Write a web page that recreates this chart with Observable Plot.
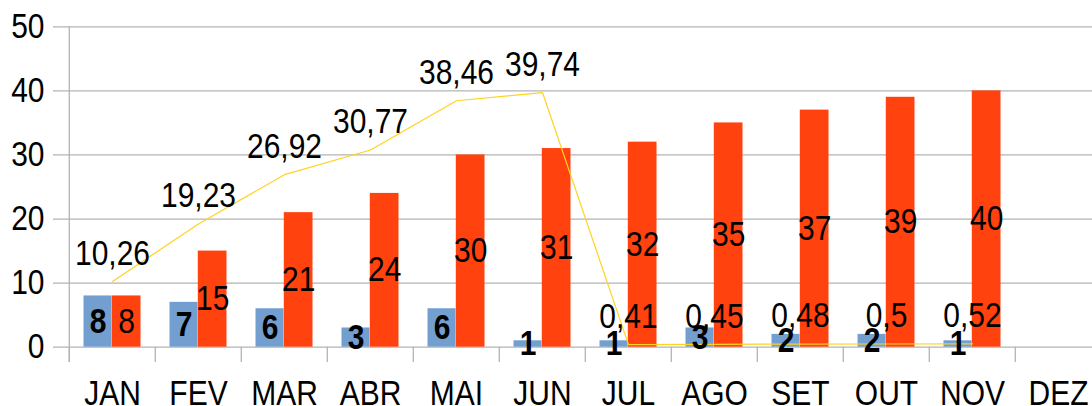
<!DOCTYPE html>
<html>
<head>
<meta charset="utf-8">
<script src="https://cdn.jsdelivr.net/npm/d3@7"></script>
<script src="https://cdn.jsdelivr.net/npm/@observablehq/plot@0.6"></script>
<style>
  html, body { margin: 0; padding: 0; background: #fff; overflow: hidden; }
  #chart { width: 1092px; height: 406px; overflow: hidden; }
</style>
</head>
<body>
<div id="chart"></div>
<script>
const months = ["JAN", "FEV", "MAR", "ABR", "MAI", "JUN", "JUL", "AGO", "SET", "OUT", "NOV", "DEZ"];
const blueValues = [8, 7, 6, 3, 6, 1, 1, 3, 2, 2, 1];
const redValues = [8, 15, 21, 24, 30, 31, 32, 35, 37, 39, 40];
const lineValues = [10.26, 19.23, 26.92, 30.77, 38.46, 39.74, 0.41, 0.45, 0.48, 0.5, 0.52];
const yTicks = [0, 10, 20, 30, 40, 50];

const rows = blueValues.map((v, i) => ({month: months[i], blue: v, red: redValues[i], line: lineValues[i]}));
const fmt = v => String(v).replace(".", ",");

const W = 1104, H = 406;
const mLeft = 66.7, mTop = 26.3, mBottom = H - 346.7;
const plotH = H - mTop - mBottom;
const bw = (W - mLeft) / months.length;
const grid = "#b3b3b3";

const chart = Plot.plot({
  width: W,
  height: H,
  marginLeft: mLeft,
  marginRight: 0,
  marginTop: mTop,
  marginBottom: mBottom,
  style: {fontFamily: "'Liberation Sans', Arial, sans-serif", fontSize: "30px", color: "#000", background: "#fff"},
  x: {type: "band", domain: months, padding: 0, axis: null},
  y: {domain: [0, 50], axis: null},
  marks: [
    Plot.ruleY(yTicks, {y: d => d, stroke: grid, strokeWidth: 1.3, insetLeft: -13.7}),
    Plot.ruleX(months, {x: d => d, dx: -bw / 2, stroke: grid, strokeWidth: 1.3, insetTop: plotH, insetBottom: -15.3}),
    Plot.ruleX([months[0]], {x: d => d, dx: -bw / 2, stroke: grid, strokeWidth: 1.3, insetBottom: -15.3}),
    Plot.barY(rows, {x: "month", y: "blue", fill: "#729fcf", insetLeft: 14.5, insetRight: 43.5}),
    Plot.barY(rows, {x: "month", y: "red", fill: "#ff420e", insetLeft: 42.8, insetRight: 14.5}),
    Plot.line(rows, {x: "month", y: "line", stroke: "#ffd320", strokeWidth: 1.2}),
    Plot.text(rows, {x: "month", y: "line", text: d => fmt(d.line), dy: -28, lineAnchor: "middle", fill: "#000"}),
    Plot.text(rows, {x: "month", y: d => d.blue / 2, text: d => String(d.blue), dx: -14.5, fontWeight: "bold", lineAnchor: "middle", fill: "#000"}),
    Plot.text(rows, {x: "month", y: d => d.red / 2, text: d => String(d.red), dx: 14.2, lineAnchor: "middle", fill: "#000"}),
    Plot.axisY(yTicks, {tickSize: 0, tickPadding: 22.7, label: null, fill: "#000"}),
    Plot.axisX(months, {tickSize: 0, tickPadding: 35, label: null, fill: "#000"})
  ]
});
chart.style.maxWidth = "none";
document.getElementById("chart").appendChild(chart);

// the reference text is slightly stretched vertically
chart.querySelectorAll("text").forEach(t => {
  const bb = t.getBBox();
  const cx = bb.x + bb.width / 2, cy = bb.y + bb.height / 2;
  const tr = t.getAttribute("transform") || "";
  t.setAttribute("transform", `${tr} translate(${cx},${cy}) scale(1,1.15) translate(${-cx},${-cy})`);
});
</script>
</body>
</html>
